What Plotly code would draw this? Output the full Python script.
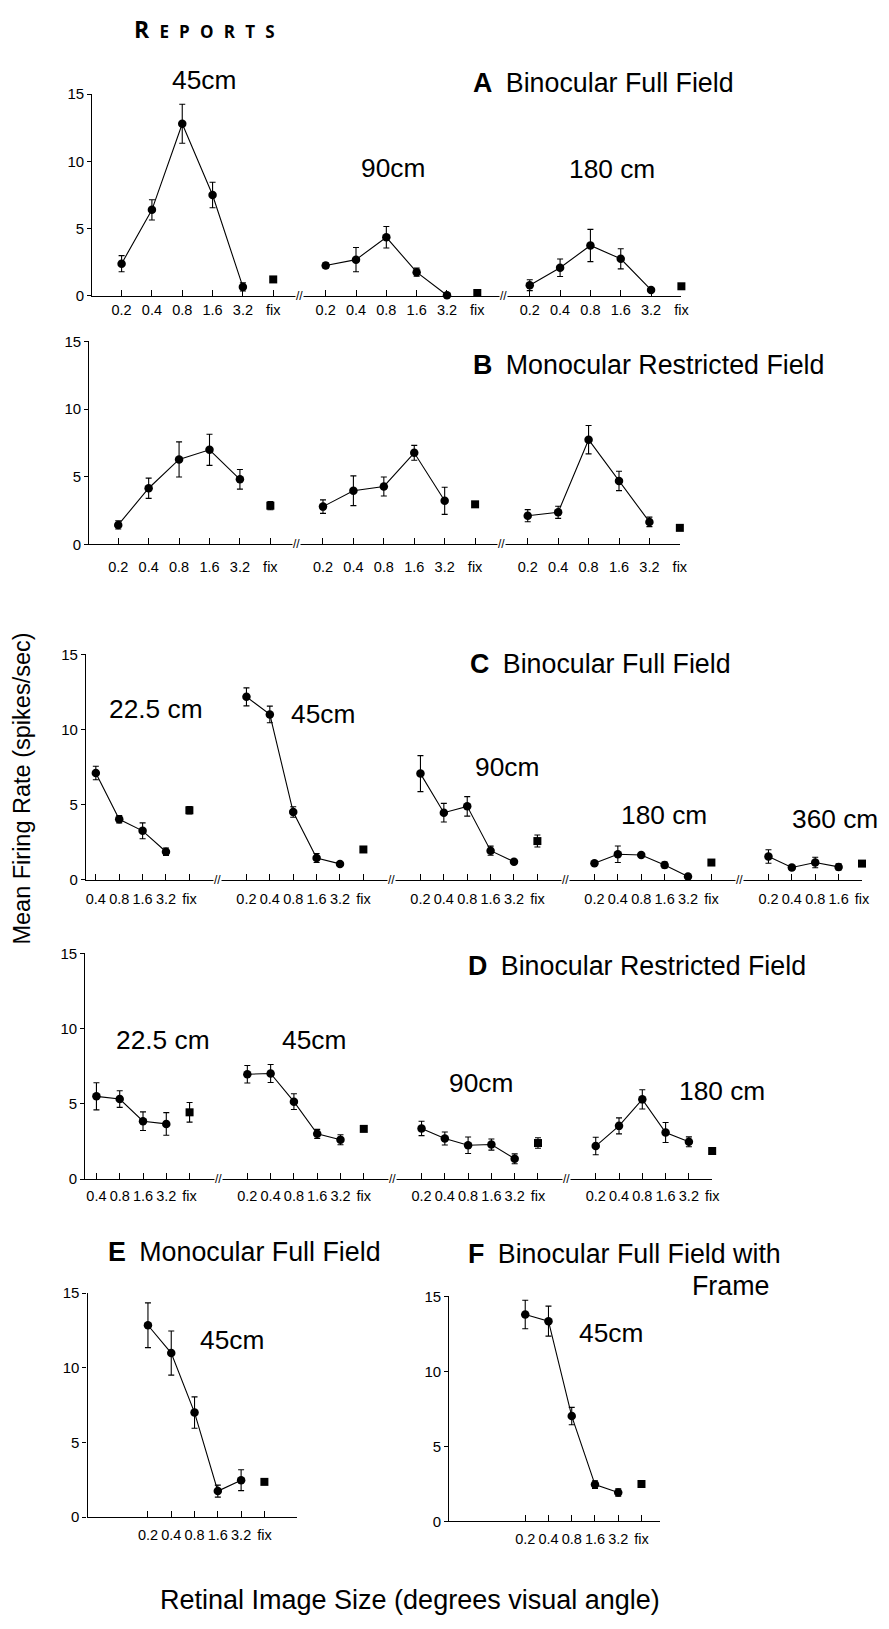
import plotly.graph_objects as go

W, H = 889, 1629

# ---------------- data ----------------
CATS6 = ["0.2", "0.4", "0.8", "1.6", "3.2", "fix"]
CATS_FROM04 = ["0.4", "0.8", "1.6", "3.2", "fix"]
CATS_NO32 = ["0.2", "0.4", "0.8", "1.6", "fix"]

# Panel A  Binocular Full Field
a_labels = ["45cm", "90cm", "180 cm"]
a45_rate = [2.4, 6.4, 12.8, 7.5, 0.67]
a45_err = [0.6, 0.75, 1.45, 0.95, 0.3]
a45_fix = [1.23]
a45_fix_err = [0.0]
a90_rate = [2.27, 2.7, 4.36, 1.77, 0.05]
a90_err = [0.2, 0.9, 0.8, 0.3, 0.0]
a90_fix = [0.22]
a90_fix_err = [0.0]
a180_rate = [0.8, 2.1, 3.75, 2.76, 0.45]
a180_err = [0.4, 0.65, 1.2, 0.75, 0.1]
a180_fix = [0.72]
a180_fix_err = [0.0]

# Panel B  Monocular Restricted Field
b1_rate = [1.44, 4.15, 6.28, 6.99, 4.81]
b1_err = [0.3, 0.75, 1.3, 1.15, 0.73]
b1_fix = [2.86]
b1_fix_err = [0.3]
b2_rate = [2.79, 3.96, 4.28, 6.77, 3.22]
b2_err = [0.5, 1.1, 0.7, 0.55, 1.0]
b2_fix = [2.96]
b2_fix_err = [0.0]
b3_rate = [2.12, 2.37, 7.74, 4.69, 1.66]
b3_err = [0.45, 0.45, 1.05, 0.72, 0.35]
b3_fix = [1.22]
b3_fix_err = [0.0]

# Panel C  Binocular Full Field
c_labels = ["22.5 cm", "45cm", "90cm", "180 cm", "360 cm"]
c22_rate = [7.11, 4.03, 3.26, 1.87]
c22_err = [0.45, 0.25, 0.53, 0.25]
c22_fix = [4.63]
c22_fix_err = [0.25]
c45_rate = [12.18, 11.01, 4.51, 1.45, 1.06]
c45_err = [0.6, 0.55, 0.35, 0.3, 0.1]
c45_fix = [2.02]
c45_fix_err = [0.0]
c90_rate = [7.07, 4.47, 4.89, 1.94, 1.2]
c90_err = [1.2, 0.62, 0.65, 0.3, 0.1]
c90_fix = [2.58]
c90_fix_err = [0.4]
c180_rate = [1.1, 1.7, 1.65, 0.99, 0.22]
c180_err = [0.1, 0.55, 0.1, 0.2, 0.0]
c180_fix = [1.15]
c180_fix_err = [0.0]
c360_rate = [1.55, 0.82, 1.15, 0.86]
c360_err = [0.45, 0.1, 0.35, 0.2]
c360_fix = [1.08]
c360_fix_err = [0.0]

# Panel D  Binocular Restricted Field
d_labels = ["22.5 cm", "45cm", "90cm", "180 cm"]
d22_rate = [5.5, 5.32, 3.85, 3.67]
d22_err = [0.9, 0.55, 0.62, 0.75]
d22_fix = [4.44]
d22_fix_err = [0.65]
d45_rate = [6.97, 7.02, 5.15, 3.01, 2.62]
d45_err = [0.58, 0.6, 0.52, 0.3, 0.33]
d45_fix = [3.34]
d45_fix_err = [0.0]
d90_rate = [3.37, 2.7, 2.25, 2.3, 1.35]
d90_err = [0.48, 0.43, 0.55, 0.37, 0.33]
d90_fix = [2.4]
d90_fix_err = [0.35]
d180_rate = [2.2, 3.54, 5.3, 3.1, 2.48]
d180_err = [0.58, 0.53, 0.64, 0.66, 0.33]
d180_fix = [1.87]
d180_fix_err = [0.0]

# Panel E  Monocular Full Field
e_labels = ["45cm"]
e45_rate = [12.85, 10.99, 7.0, 1.74, 2.47]
e45_err = [1.5, 1.48, 1.05, 0.4, 0.7]
e45_fix = [2.36]
e45_fix_err = [0.15]

# Panel F  Binocular Full Field with Frame
f_labels = ["45cm"]
f45_rate = [13.79, 13.35, 7.02, 2.45, 1.92]
f45_err = [0.95, 1.0, 0.58, 0.25, 0.25]
f45_fix = [2.49]
f45_fix_err = [0.0]

y_ticks = [0, 5, 10, 15]

# ---------------- layout geometry (pixels) ----------------
FONT = "Liberation Sans, Arial, Helvetica, sans-serif"
TITLE_SIZE = 26.8
LABEL_SIZE = 26.3

panels = [
    dict(title="<b>A</b>\u2002Binocular Full Field", title_xy=(475, 75),
         groups=[(CATS6, a45_rate, a45_err, a45_fix, a45_fix_err),
                 (CATS6, a90_rate, a90_err, a90_fix, a90_fix_err),
                 (CATS6, a180_rate, a180_err, a180_fix, a180_fix_err)],
         labels=a_labels, label_xy=[(206, 72), (397, 161), (618, 162)],
         y0=290, y15=86, left=93, px0=122.7, step=30.6, gap=1.73, right=None,
         standoff=1),
    dict(title="<b>B</b>\u2002Monocular Restricted Field", title_xy=(475, 360),
         groups=[(CATS6, b1_rate, b1_err, b1_fix, b1_fix_err),
                 (CATS6, b2_rate, b2_err, b2_fix, b2_fix_err),
                 (CATS6, b3_rate, b3_err, b3_fix, b3_fix_err)],
         labels=[], label_xy=[],
         y0=541, y15=336, left=90, px0=119.3, step=30.7, gap=1.73, right=None,
         standoff=9),
    dict(title="<b>C</b>\u2002Binocular Full Field", title_xy=(472, 662),
         groups=[(CATS_FROM04, c22_rate, c22_err, c22_fix, c22_fix_err),
                 (CATS6, c45_rate, c45_err, c45_fix, c45_fix_err),
                 (CATS6, c90_rate, c90_err, c90_fix, c90_fix_err),
                 (CATS6, c180_rate, c180_err, c180_fix, c180_fix_err),
                 (CATS_NO32, c360_rate, c360_err, c360_fix, c360_fix_err)],
         labels=c_labels, label_xy=[(157, 707), (326, 712), (512, 766), (670, 815), (843, 819)],
         y0=880, y15=652.3, left=86.7, px0=96.7, step=23.6, gap=2.44, right=None,
         standoff=6),
    dict(title="<b>D</b>\u2002Binocular Restricted Field", title_xy=(470, 967),
         groups=[(CATS_FROM04, d22_rate, d22_err, d22_fix, d22_fix_err),
                 (CATS6, d45_rate, d45_err, d45_fix, d45_fix_err),
                 (CATS6, d90_rate, d90_err, d90_fix, d90_fix_err),
                 (CATS6, d180_rate, d180_err, d180_fix, d180_fix_err)],
         labels=d_labels, label_xy=[(164, 1042), (317, 1042), (485, 1085), (729, 1093)],
         y0=1182.5, y15=954.3, left=86, px0=97.3, step=23.5, gap=2.48, right=None,
         standoff=3),
    dict(title="<b>E</b>\u2002Monocular Full Field", title_xy=(107, 1256),
         groups=[(CATS6, e45_rate, e45_err, e45_fix, e45_fix_err)],
         labels=e_labels, label_xy=[(234, 1345)],
         y0=1524, y15=1297.7, left=88.3, px0=149.3, step=23.5, gap=0, right=300,
         standoff=4),
    dict(title="<b>F</b>\u2002Binocular Full Field with", title_xy=(470, 1258),
         groups=[(CATS6, f45_rate, f45_err, f45_fix, f45_fix_err)],
         labels=f_labels, label_xy=[(617, 1338)],
         y0=1528.3, y15=1301, left=453.3, px0=530, step=23.46, gap=0, right=666,
         standoff=4),
]


def px(x):
    return x / W


def py(y):
    return 1 - y / H


fig = go.Figure()
annotations = []
LINE = dict(color="black", width=1.1)

for i, p in enumerate(panels):
    n = i + 1
    xa = "x" if n == 1 else f"x{n}"
    ya = "y" if n == 1 else f"y{n}"
    start = 0.0
    tickvals, ticktext, breaks = [], [], []
    for gi, (cats, rate, err, fix, fix_err) in enumerate(p["groups"]):
        xs = [start + k for k in range(len(cats))]
        fig.add_trace(go.Scatter(
            x=xs[:-1], y=rate, xaxis=xa, yaxis=ya, mode="lines+markers",
            line=LINE, marker=dict(symbol="circle", size=8.5, color="black"),
            error_y=dict(type="data", array=err, visible=True, color="black",
                         thickness=1.1, width=3),
            cliponaxis=False, showlegend=False, hoverinfo="x+y"))
        fig.add_trace(go.Scatter(
            x=xs[-1:], y=fix, xaxis=xa, yaxis=ya, mode="markers",
            marker=dict(symbol="square", size=8, color="black"),
            error_y=dict(type="data", array=fix_err, visible=True, color="black",
                         thickness=1.1, width=3),
            cliponaxis=False, showlegend=False, hoverinfo="x+y"))
        tickvals += xs
        ticktext += cats
        last = xs[-1]
        start = last + p["gap"]
        if gi < len(p["groups"]) - 1:
            breaks.append(last + p["gap"] / 2)
    right_px = p["right"] if p["right"] is not None else p["px0"] + tickvals[-1] * p["step"]
    xr = [(p["left"] - p["px0"]) / p["step"], (right_px - p["px0"]) / p["step"]]
    axkey = "xaxis" if n == 1 else f"xaxis{n}"
    aykey = "yaxis" if n == 1 else f"yaxis{n}"
    fig.update_layout(**{
        axkey: dict(domain=[px(p["left"]), px(right_px)], range=xr, anchor=ya,
                    showline=True, linecolor="black", linewidth=1.2,
                    ticks="inside", ticklen=6, tickwidth=1, tickcolor="black",
                    tickvals=tickvals, ticktext=ticktext,
                    ticklabelstandoff=p["standoff"],
                    tickfont=dict(family=FONT, size=14.5, color="black"),
                    showgrid=False, zeroline=False, fixedrange=True),
        aykey: dict(domain=[py(p["y0"]), py(p["y15"])], range=[0, 15], anchor=xa,
                    showline=True, linecolor="black", linewidth=1.2,
                    ticks="outside", ticklen=4, tickwidth=1, tickcolor="black",
                    tickvals=y_ticks,
                    tickfont=dict(family=FONT, size=15, color="black"),
                    showgrid=False, zeroline=False, fixedrange=True),
    })
    for b in breaks:
        annotations.append(dict(x=b, y=0, xref=xa, yref=ya, text="//", showarrow=False,
                                font=dict(family=FONT, size=12, color="black"),
                                bgcolor="white", borderpad=0, xanchor="center",
                                yanchor="middle"))
    tx, ty = p["title_xy"]
    annotations.append(dict(x=px(tx), y=py(ty), xref="paper", yref="paper",
                            text=p["title"], showarrow=False, xanchor="left",
                            yanchor="middle",
                            font=dict(family=FONT, size=TITLE_SIZE, color="black")))
    for lab, (lx, ly) in zip(p["labels"], p["label_xy"]):
        annotations.append(dict(x=px(lx), y=py(ly), xref="paper", yref="paper",
                                text=lab, showarrow=False, xanchor="center",
                                yanchor="middle",
                                font=dict(family=FONT, size=LABEL_SIZE, color="black")))

# second line of panel F title
annotations.append(dict(x=px(778), y=py(1290), xref="paper", yref="paper", text="Frame",
                        showarrow=False, xanchor="right", yanchor="middle",
                        font=dict(family=FONT, size=TITLE_SIZE, color="black")))
# header
SP = "\u2002\u200a"
annotations.append(dict(x=px(133), y=py(20), xref="paper", yref="paper",
                        text="<b><span style='font-size:23px'>R</span>" + SP + SP.join("EPORTS") + "</b>",
                        showarrow=False, xanchor="left", yanchor="middle",
                        font=dict(family="Open Sans, sans-serif", size=17, color="black")))
# shared axis titles
annotations.append(dict(x=px(22), y=py(788), xref="paper", yref="paper",
                        text="Mean Firing Rate (spikes/sec)", textangle=-90,
                        showarrow=False, xanchor="center", yanchor="middle",
                        font=dict(family=FONT, size=23.5, color="black")))
annotations.append(dict(x=px(414), y=py(1608), xref="paper", yref="paper",
                        text="Retinal Image Size (degrees visual angle)",
                        showarrow=False, xanchor="center", yanchor="middle",
                        font=dict(family=FONT, size=27, color="black")))

fig.update_layout(width=W, height=H, margin=dict(l=0, r=0, t=0, b=0),
                  paper_bgcolor="white", plot_bgcolor="white",
                  annotations=annotations, showlegend=False)

fig.write_html("out.html", config={"displayModeBar": False},
               post_script="document.body.style.margin='0';document.body.style.padding='0';")
